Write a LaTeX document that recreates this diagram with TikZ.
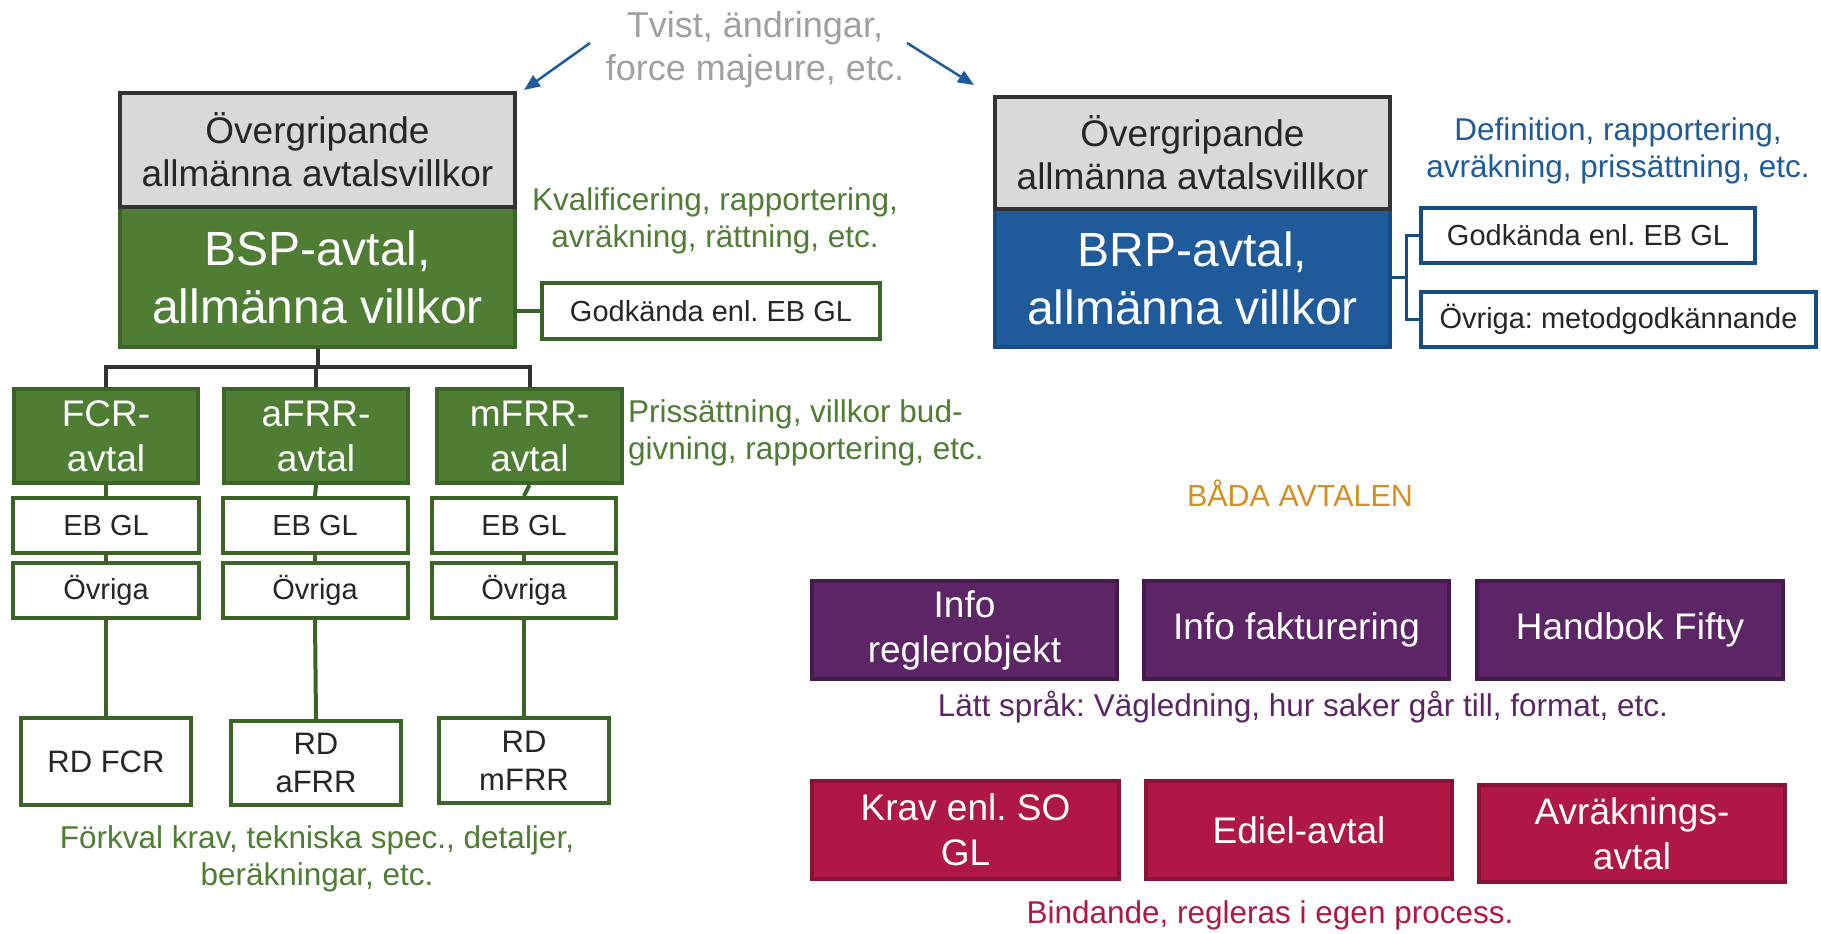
\documentclass[tikz,border=0pt]{standalone}
\usepackage{fontspec}
\setmainfont{Liberation Sans}
\usetikzlibrary{arrows.meta}
\frenchspacing
\newcommand\myfs[2]{\fontsize{#1}{#2}\selectfont}
\definecolor{gfill}{HTML}{4E7D33}
\definecolor{gline}{HTML}{3D6428}
\definecolor{gtext}{HTML}{4E7D33}
\definecolor{bfill}{HTML}{1F5A9A}
\definecolor{bline}{HTML}{184C84}
\definecolor{btext}{HTML}{1F5A9A}
\definecolor{grayfill}{HTML}{D9D9D9}
\definecolor{darkline}{HTML}{333333}
\definecolor{pfill}{HTML}{5C2566}
\definecolor{pline}{HTML}{461A4E}
\definecolor{rfill}{HTML}{AF1845}
\definecolor{rline}{HTML}{8A1236}
\definecolor{orangetxt}{HTML}{D68F1F}
\definecolor{graytxt}{HTML}{A0A0A0}
\definecolor{blacktxt}{HTML}{262626}
\tikzset{
  anyBox/.style={rectangle, line width=4pt, inner sep=2pt, align=center},
  grayBox/.style={anyBox, draw=darkline, fill=grayfill, text=blacktxt, font={\frenchspacing\myfs{37}{43}}},
  greenBig/.style={anyBox, draw=gline, fill=gfill, text=white, font={\frenchspacing\myfs{48}{58}}},
  blueBig/.style={anyBox, draw=bline, fill=bfill, text=white, font={\frenchspacing\myfs{48}{58}}},
  greenMid/.style={anyBox, draw=gline, fill=gfill, text=white, font={\frenchspacing\myfs{37}{45}}},
  whiteG/.style={anyBox, draw=gline, fill=white, text=blacktxt, font={\frenchspacing\myfs{29}{36}}},
  whiteB/.style={anyBox, draw=bline, fill=white, text=blacktxt, font={\frenchspacing\myfs{29}{36}}},
  rdBox/.style={anyBox, draw=gline, fill=white, text=blacktxt, font={\frenchspacing\myfs{31}{38}}},
  purpBox/.style={anyBox, draw=pline, fill=pfill, text=white, font={\frenchspacing\myfs{37}{45}}},
  redBox/.style={anyBox, draw=rline, fill=rfill, text=white, font={\frenchspacing\myfs{37}{45}}},
  note/.style={align=center, inner sep=0pt, font={\frenchspacing\myfs{31.5}{37}}},
  gconn/.style={draw=gline, line width=4pt},
  tree/.style={draw=darkline, line width=4pt, line join=miter},
  bconn/.style={draw=bline, line width=3pt},
  barrow/.style={draw=bfill, line width=2.5pt, -{Triangle[length=16pt,width=13pt]}},
}
\begin{document}
\begin{tikzpicture}[x=1pt, y=-1pt]
\useasboundingbox[fill=white] (0,0) rectangle (1821,934);

% top note and arrows
\node[note, text=graytxt, font={\frenchspacing\myfs{36}{43}}] (tvist) at (755,50) {Tvist, ändringar,\\force majeure, etc.};
\coordinate (aLs) at (590,43);
\coordinate (aLe) at (524,90);
\coordinate (aRs) at (907,43);
\coordinate (aRe) at (974,85);
\draw[barrow] (aLs) -- (aLe);
\draw[barrow] (aRs) -- (aRe);

% left block
\node[greenBig, minimum width=395pt, minimum height=140pt] (bsp) at (317.5,277) {BSP-avtal,\\allmänna villkor};
\node[grayBox, minimum width=395pt, minimum height=114pt] (ovL) at (317.5,150) {Övergripande\\allmänna avtalsvillkor};
\node[note, text=gtext] (kval) at (715,221) {Kvalificering, rapportering,\\avräkning, rättning, etc.};
\node[whiteG, minimum width=338pt, minimum height=56pt] (gk1) at (711,311) {Godkända enl. EB GL};
\draw[gconn] (gk1.west -| bsp.east) -- (gk1.west);

% children
\node[greenMid, minimum width=184pt, minimum height=94pt] (fcr) at (106,436) {FCR-\\avtal};
\node[greenMid, minimum width=184pt, minimum height=94pt] (afrr) at (316,436) {aFRR-\\avtal};
\node[greenMid, minimum width=185pt, minimum height=94pt] (mfrr) at (529.5,436) {mFRR-\\avtal};
\coordinate (bar) at (318,367);
\draw[tree] (bsp.south) -- (bsp.south |- bar);
\draw[tree] (fcr.north) -- (fcr.north |- bar) -- (mfrr.north |- bar) -- (mfrr.north);
\draw[tree] (afrr.north) -- (afrr.north |- bar);
\node[note, text=gtext, align=left, anchor=west] (pris) at (628,433) {Prissättning, villkor bud-\\givning, rapportering, etc.};

\node[whiteG, minimum width=186pt, minimum height=55pt] (eb1) at (106,525.5) {EB GL};
\node[whiteG, minimum width=185pt, minimum height=55pt] (eb2) at (315,525.5) {EB GL};
\node[whiteG, minimum width=184pt, minimum height=55pt] (eb3) at (524,525.5) {EB GL};
\node[whiteG, minimum width=186pt, minimum height=55pt] (ov1) at (106,590.5) {Övriga};
\node[whiteG, minimum width=185pt, minimum height=55pt] (ov2) at (315,590.5) {Övriga};
\node[whiteG, minimum width=184pt, minimum height=55pt] (ov3) at (524,590.5) {Övriga};
\node[rdBox, minimum width=170pt, minimum height=87pt] (rd1) at (106,761.5) {RD FCR};
\node[rdBox, minimum width=170pt, minimum height=84pt] (rd2) at (316,763) {RD\\aFRR};
\node[rdBox, minimum width=170pt, minimum height=85pt] (rd3) at (524,760.5) {RD\\mFRR};
\foreach \a/\b in {fcr/eb1, eb1/ov1, ov1/rd1, afrr/eb2, eb2/ov2, ov2/rd2, mfrr/eb3, eb3/ov3, ov3/rd3}
  \draw[gconn] (\a.south) -- (\b.north);
\node[note, text=gtext] (forkval) at (317,859) {Förkval krav, tekniska spec., detaljer,\\beräkningar, etc.};

% right block
\node[blueBig, minimum width=395pt, minimum height=138pt] (brp) at (1192.5,278) {BRP-avtal,\\allmänna villkor};
\node[grayBox, minimum width=395pt, minimum height=112pt] (ovR) at (1192.5,153) {Övergripande\\allmänna avtalsvillkor};
\node[note, text=btext] (defn) at (1618,151) {Definition, rapportering,\\avräkning, prissättning, etc.};
\node[whiteB, minimum width=334pt, minimum height=55pt] (gk2) at (1588,235.5) {Godkända enl. EB GL};
\node[whiteB, minimum width=395pt, minimum height=55pt] (ovm) at (1618.5,319.5) {Övriga: metodgodkännande};
\coordinate (bj) at (1406,277);
\draw[bconn] (brp.east |- bj) -- (bj);
\draw[bconn] (gk2.west) -| (bj);
\draw[bconn] (ovm.west) -| (bj);

% shared
\node[note, text=orangetxt, font={\frenchspacing\myfs{30.5}{37}}] (bada) at (1300,493) {BÅDA AVTALEN};
\node[purpBox, minimum width=305pt, minimum height=98pt] (p1) at (964.5,630) {Info\\reglerobjekt};
\node[purpBox, minimum width=305pt, minimum height=98pt] (p2) at (1296.5,630) {Info fakturering};
\node[purpBox, minimum width=306pt, minimum height=98pt] (p3) at (1630,630) {Handbok Fifty};
\node[note, text=pfill] (latt) at (1303,707) {Lätt språk: Vägledning, hur saker går till, format, etc.};
\node[redBox, minimum width=307pt, minimum height=98pt] (r1) at (965.5,830) {Krav enl. SO\\GL};
\node[redBox, minimum width=306pt, minimum height=98pt] (r2) at (1299,830) {Ediel-avtal};
\node[redBox, minimum width=306pt, minimum height=97pt] (r3) at (1632,833.5) {Avräknings-\\avtal};
\node[note, text=rfill] (bind) at (1270,915) {Bindande, regleras i egen process.};
\end{tikzpicture}
\end{document}
